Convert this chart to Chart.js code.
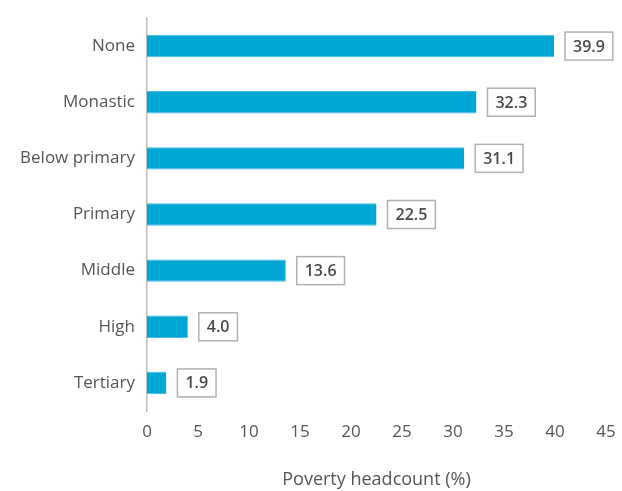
<!DOCTYPE html>
<html>
<head>
<meta charset="utf-8">
<script src="https://cdn.jsdelivr.net/npm/chart.js@4"></script>
<style>
  html, body { margin: 0; padding: 0; background: #fff; }
  #wrap { width: 622px; height: 491px; }
</style>
</head>
<body>
<div id="wrap"><canvas id="chart" width="622" height="491"></canvas></div>
<script>
// Dữ liệu biểu đồ
const categories = ['None', 'Monastic', 'Below primary', 'Primary', 'Middle', 'High', 'Tertiary'];
const headcount = [39.9, 32.3, 31.1, 22.5, 13.6, 4.0, 1.9];
const xTicks = [0, 5, 10, 15, 20, 25, 30, 35, 40, 45];

const FONT = "'Open Sans', 'Noto Sans', sans-serif";

// Plugin vẽ nhãn giá trị trong khung
const boxLabels = {
    id: 'boxLabels',
    afterDatasetsDraw(chart) {
        const ctx = chart.ctx;
        const meta = chart.getDatasetMeta(0);
        ctx.save();
        ctx.font = '600 16px ' + FONT;
        ctx.textBaseline = 'middle';
        ctx.textAlign = 'center';
        meta.data.forEach((bar, i) => {
            const txt = headcount[i].toFixed(1);
            const w = ctx.measureText(txt).width + 16;
            const h = 28;
            const left = bar.x + 11;
            ctx.fillStyle = '#fff';
            ctx.fillRect(left, bar.y - h / 2, w, h);
            ctx.strokeStyle = '#b0b0b0';
            ctx.lineWidth = 1.5;
            ctx.strokeRect(left, bar.y - h / 2, w, h);
            ctx.fillStyle = '#4a4a4a';
            ctx.fillText(txt, left + w / 2, bar.y + 1);
        });
        ctx.restore();
    }
};

new Chart(document.getElementById('chart'), {
    type: 'bar',
    data: {
        labels: categories,
        datasets: [{
            data: headcount,
            backgroundColor: '#00a6d4',
            borderColor: '#3fbde3',
            borderWidth: { top: 1, bottom: 1, right: 0, left: 0 },
            barPercentage: 0.4,
            categoryPercentage: 1.0
        }]
    },
    options: {
        indexAxis: 'y',
        responsive: false,
        animation: false,
        devicePixelRatio: 1,
        layout: { padding: { top: 18, right: 16, left: 0, bottom: 0 } },
        plugins: {
            legend: { display: false },
            tooltip: { enabled: false }
        },
        scales: {
            x: {
                min: 0,
                max: 45,
                afterBuildTicks: (scale) => { scale.ticks = xTicks.map(v => ({ value: v })); },
                afterFit: (scale) => { scale.paddingLeft = 0; scale.paddingRight = 0; },
                grid: { display: false },
                border: { display: false },
                ticks: {
                    color: '#555',
                    padding: 3,
                    font: { family: FONT, size: 17 }
                },
                title: {
                    display: true,
                    text: 'Poverty headcount (%)',
                    color: '#555',
                    padding: { top: 24, bottom: 0 },
                    font: { family: FONT, size: 18 }
                }
            },
            y: {
                afterFit: (scale) => { scale.width = 147; },
                grid: { display: false },
                border: { display: true, color: '#bdbdbd', width: 1.5 },
                ticks: {
                    color: '#555',
                    padding: 4,
                    font: { family: FONT, size: 17 }
                }
            }
        }
    },
    plugins: [boxLabels]
});
</script>
</body>
</html>
